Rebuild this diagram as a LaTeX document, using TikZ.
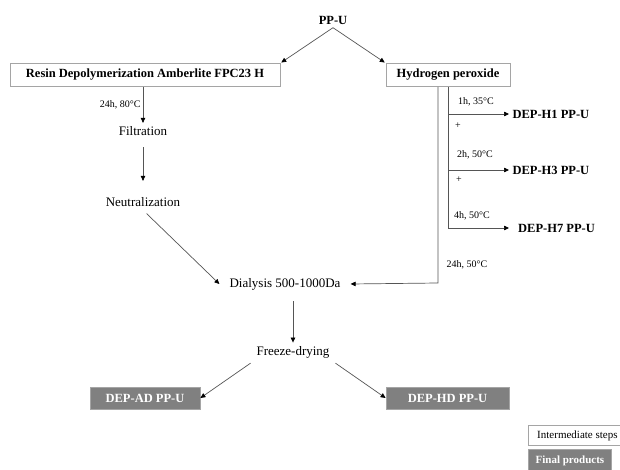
\documentclass[tikz,border=0pt]{standalone}
\usepackage{fontspec}
\setmainfont{Liberation Serif}
\usepackage{xcolor}
\usepackage{tikz}
\usetikzlibrary{positioning,arrows.meta}

\definecolor{boxline}{RGB}{165,165,165}
\definecolor{prodfill}{RGB}{128,128,128}
\definecolor{linkgray}{RGB}{85,85,85}

\begin{document}
\begin{tikzpicture}[x=1pt, y=-1pt,
  stepbox/.style={draw=boxline, line width=0.8pt, fill=white, inner sep=0pt,
    font=\fontsize{12.5}{15}\selectfont\bfseries},
  prodbox/.style={draw=boxline, line width=0.8pt, fill=prodfill, text=white, inner sep=0pt,
    font=\fontsize{12.5}{15}\selectfont\bfseries},
  stage/.style={font=\fontsize{13}{15}\selectfont},
  product/.style={font=\fontsize{12.5}{15}\selectfont\bfseries},
  cond/.style={font=\fontsize{10}{12}\selectfont, inner sep=2pt},
  link/.style={draw=linkgray, line width=0.7pt, -{Triangle[length=5pt,width=4.5pt,color=black]}},
  plain/.style={draw=linkgray, line width=0.7pt}
]

\useasboundingbox (0,0) rectangle (620,470);

% Start and the two routes
\node[product] (ppu) at (333,20) {PP-U};
\node[stepbox, minimum width=270pt, minimum height=23pt] (resin) at (145,75) {Resin Depolymerization Amberlite FPC23 H};
\node[stepbox, minimum width=124pt, minimum height=23pt] (hperox) at (448,75) {Hydrogen peroxide};

% Intermediate steps
\node[stage] (filt) at (143,131) {Filtration};
\node[stage] (neutr) at (143,202) {Neutralization};
\node[stage, inner xsep=10pt] (dial) at (285,284) {Dialysis 500-1000Da};
\node[stage] (freeze) at (293,352) {Freeze-drying};

% Products of the peroxide route
\node[product, anchor=west] (h1) at (509,114) {DEP-H1 PP-U};
\node[product, anchor=west] (h3) at (509,170) {DEP-H3 PP-U};
\node[product, anchor=west, inner xsep=9pt] (h7) at (509,228) {DEP-H7 PP-U};

% Final products
\node[prodbox, minimum width=110pt, minimum height=22pt] (depad) at (145,398) {DEP-AD PP-U};
\node[prodbox, minimum width=123pt, minimum height=22pt] (dephd) at (447.5,398) {DEP-HD PP-U};

% Split
\draw[link, shorten >=1pt] (ppu.south) -- (resin.north east);
\draw[link, shorten >=1pt] (ppu.south) -- (hperox.north west);

% Resin route
\draw[link] (filt.north |- resin.south) -- (filt.north) node[cond, midway, left] {24h, 80°C};
\draw[link, shorten <=8pt, shorten >=13pt] (filt.south) -- (neutr.north);
\draw[link, shorten <=5pt] (neutr.south) -- (dial.west);

% Peroxide route
\coordinate (outer) at (438,283);
\coordinate (inner) at (448,228);
\draw[link] (hperox.south -| outer) -- (outer) -- (dial.east);
\draw[plain] (hperox.south -| inner) -- (inner);
\draw[link] (inner |- h1.west) -- (h1.west);
\draw[link] (inner |- h3.west) -- (h3.west);
\draw[link] (inner) -- (h7.west);

% Conditions
\node[cond] (c1) at (476,102) {1h, 35°C};
\node[cond] (p1) at (458,126) {+};
\node[cond] (c2) at (475,155) {2h, 50°C};
\node[cond] (p2) at (459,180) {+};
\node[cond] (c3) at (472,216) {4h, 50°C};
\node[cond] (c4) at (467,265) {24h, 50°C};

% Drying and products
\draw[link, shorten <=8pt] (freeze.north |- dial.south) -- (freeze.north);
\draw[link, shorten <=3pt] (freeze.south west) -- (depad.east);
\draw[link, shorten <=3pt] (freeze.south east) -- (dephd.west);

% Legend
\node[stepbox, font=\fontsize{11}{13}\selectfont, minimum width=98pt, minimum height=20pt, anchor=north west] (legint) at (528,425) {Intermediate steps};
\node[prodbox, font=\fontsize{11}{13}\selectfont\bfseries, minimum width=83pt, minimum height=22pt, anchor=north west] (legfin) at (528,449) {Final products};

\end{tikzpicture}
\end{document}
